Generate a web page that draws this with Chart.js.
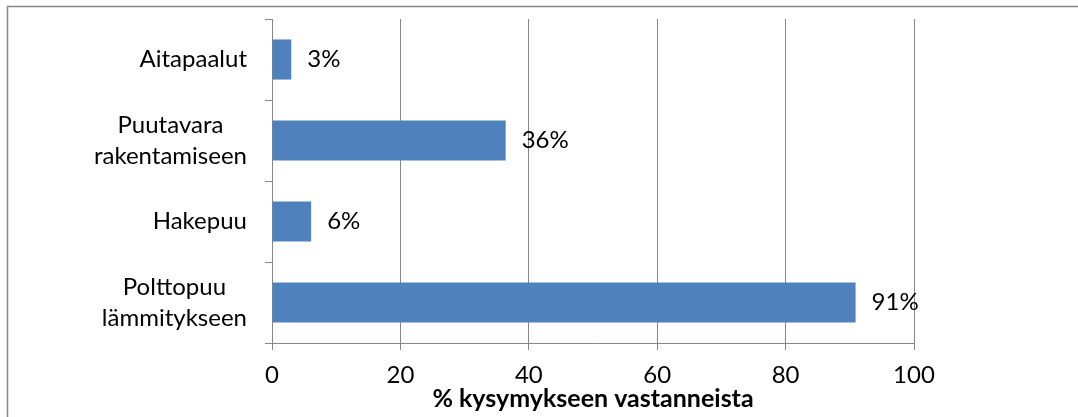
<!DOCTYPE html>
<html><head><meta charset="utf-8">
<script src="https://cdn.jsdelivr.net/npm/chart.js@4/dist/chart.umd.min.js"></script>
<style>html,body{margin:0;padding:0;background:#fff;overflow:hidden}#wrap{width:1078px;height:417px;position:relative}</style>
</head><body><div id="wrap"><canvas id="c" width="1078" height="417"></canvas></div>
<script>
const categories = [["Aitapaalut"], ["Puutavara", "rakentamiseen"], ["Hakepuu"], ["Polttopuu", "lämmitykseen"]];
const values = [3, 36.4, 6.1, 90.9];
const xTicks = [0, 20, 40, 60, 80, 100];
const axisTitle = "% kysymykseen vastanneista";

const FONT = 'Lato, "Open Sans", sans-serif';
const LABEL_SIZE = 24;
const GRID = '#868686';

const frame = {
  id: 'frame',
  beforeDraw(chart) {
    const c = chart.ctx;
    c.save();
    c.fillStyle = '#fff';
    c.fillRect(0, 0, chart.width, chart.height);
    c.strokeStyle = '#888888';
    c.lineWidth = 1.5;
    c.beginPath();
    c.moveTo(7.5, chart.height + 2);
    c.lineTo(7.5, 6.5);
    c.lineTo(chart.width + 2, 6.5);
    c.stroke();
    c.restore();
  }
};

const catLabels = {
  id: 'catLabels',
  afterDraw(chart) {
    const ys = chart.scales.y;
    const c = chart.ctx;
    c.save();
    c.font = LABEL_SIZE + 'px ' + FONT;
    c.fillStyle = '#000';
    c.textAlign = 'center';
    c.textBaseline = 'middle';
    const lh = 31;
    categories.forEach((lines, i) => {
      const cy = ys.getPixelForValue(i);
      const w = Math.max(...lines.map(l => c.measureText(l).width));
      const cx = ys.right - 25 - w / 2;
      lines.forEach((l, j) => {
        c.fillText(l, cx, cy + (j - (lines.length - 1) / 2) * lh);
      });
    });
    c.restore();
  }
};

const valueLabels = {
  id: 'valueLabels',
  afterDatasetsDraw(chart) {
    const meta = chart.getDatasetMeta(0);
    const c = chart.ctx;
    c.save();
    c.font = LABEL_SIZE + 'px ' + FONT;
    c.fillStyle = '#000';
    c.textAlign = 'left';
    c.textBaseline = 'middle';
    meta.data.forEach((el, i) => {
      c.fillText(Math.round(values[i]) + '%', el.x + 16, el.y);
    });
    c.restore();
  }
};

new Chart(document.getElementById('c'), {
  type: 'bar',
  data: {
    labels: categories,
    datasets: [{
      data: values,
      backgroundColor: '#4F81BD',
      borderWidth: 0,
      barPercentage: 0.495,
      categoryPercentage: 1
    }]
  },
  options: {
    indexAxis: 'y',
    responsive: false,
    animation: false,
    layout: { padding: { left: 0, right: 164, top: 19, bottom: 0 } },
    plugins: { legend: { display: false }, tooltip: { enabled: false } },
    scales: {
      x: {
        min: 0, max: 100,
        afterBuildTicks: s => { s.ticks = xTicks.map(v => ({ value: v })); },
        grid: { color: GRID, lineWidth: 1, drawTicks: true, tickLength: 7, tickColor: GRID },
        border: { display: true, color: GRID, width: 1 },
        ticks: { font: { family: FONT, size: LABEL_SIZE }, color: '#000', padding: 11, maxRotation: 0, autoSkip: false },
        title: { display: true, text: axisTitle, color: '#000',
                 font: { family: FONT, size: 25, weight: 'bold' }, padding: { top: 0, bottom: 3 } },
        afterFit: s => { s.height = 74; }
      },
      y: {
        grid: { display: true, drawOnChartArea: false, drawTicks: true, tickLength: 7, color: GRID, offset: true },
        border: { display: true, color: GRID, width: 1 },
        ticks: { display: false },
        afterFit: s => { s.width = 272; }
      }
    }
  },
  plugins: [frame, catLabels, valueLabels]
});
</script>
</body></html>
